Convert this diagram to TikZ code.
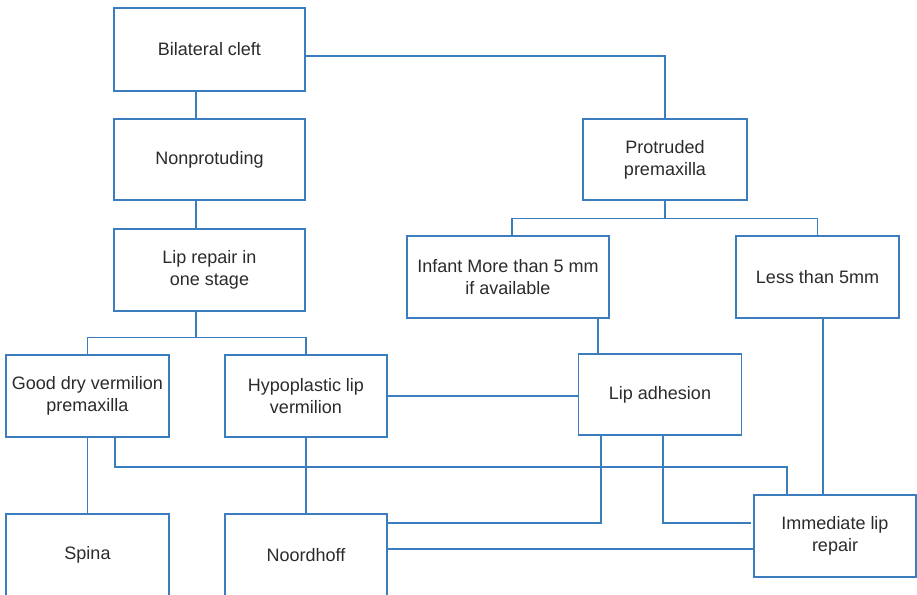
\documentclass[tikz,border=0pt]{standalone}
\usepackage{fontspec}
\setmainfont{Liberation Sans}
\definecolor{lineblue}{HTML}{3C7DBF}
\definecolor{txt}{HTML}{2B2B2B}
\begin{document}
\begin{tikzpicture}[x=1pt,y=-1pt,
  box/.style={draw=lineblue,line width=1.2pt,rectangle,inner xsep=2pt,inner ysep=0pt,
    align=center,text=txt,font=\fontsize{18}{22}\selectfont},
  conn/.style={draw=lineblue,line width=1.2pt}]
\useasboundingbox (0,0) rectangle (917,594);
\clip (0,0) rectangle (917,594);
\fill[white] (0,0) rectangle (917,594);
% nodes
\node[box,minimum width=191pt,minimum height=83pt] (bc) at (209.5,49.5) {Bilateral cleft};
\node[box,minimum width=191pt,minimum height=81pt] (np) at (209.5,159.5) {Nonprotuding};
\node[box,minimum width=191pt,minimum height=82pt] (lr) at (209.5,270) {Lip repair in\\one stage};
\node[box,minimum width=163pt,minimum height=82pt] (gd) at (87.5,396) {Good dry vermilion\\premaxilla};
\node[box,minimum width=162pt,minimum height=82pt] (hy) at (306,396) {Hypoplastic lip\\vermilion};
\node[box,minimum width=164pt,minimum height=81pt] (pp) at (665,159.5) {Protruded\\premaxilla};
\node[box,minimum width=202pt,minimum height=82pt] (inf) at (508,277) {Infant More than 5 mm\\if available};
\node[box,minimum width=163pt,minimum height=82pt] (lt) at (817.5,277) {Less than 5mm};
\node[box,minimum width=163pt,minimum height=81pt] (la) at (660,394.5) {Lip adhesion};
\node[box,minimum width=163pt,minimum height=82pt] (sp) at (87.5,555) {Spina};
\node[box,minimum width=162pt,minimum height=82pt] (no) at (306,555) {Noordhoff};
\node[box,minimum width=162pt,minimum height=82pt] (im) at (835,536) {Immediate lip\\repair};
\coordinate (free) at (751,523);
% connectors
\draw[conn] (bc.east |- 0,56) -| (pp.north);
\draw[conn] ([xshift=-13.5pt]bc.south) -- ([xshift=-13.5pt]np.north);
\draw[conn] ([xshift=-13.5pt]np.south) -- ([xshift=-13.5pt]lr.north);
\draw[conn] ([xshift=-13.5pt]lr.south) -- ++(0,26) coordinate (lrb);
\draw[conn] (gd.north) |- (lrb) -| (hy.north);
\draw[conn] (pp.south) -- ++(0,18) coordinate (ppb);
\draw[conn] ([xshift=4pt]inf.north) |- (ppb) -| (lt.north);
\draw[conn] ([xshift=90pt]inf.south) -- ([xshift=-62pt]la.north);
\draw[conn] ([xshift=5.5pt]lt.south) -- ([xshift=-12pt]im.north);
\draw[conn] (hy.east) -- (hy.east -| la.west);
\draw[conn] (gd.south) -- (sp.north);
\draw[conn] ([xshift=27.5pt]gd.south) -- ([xshift=27.5pt]gd.south |- 0,467) -| ([xshift=-48pt]im.north);
\draw[conn] (hy.south) -- (no.north);
\draw[conn] ([xshift=-59pt]la.south) |- (no.east |- free);
\draw[conn] ([xshift=3pt]la.south) |- (free);
\draw[conn] (no.east |- 0,549) -- (im.west |- 0,549);
\end{tikzpicture}
\end{document}
